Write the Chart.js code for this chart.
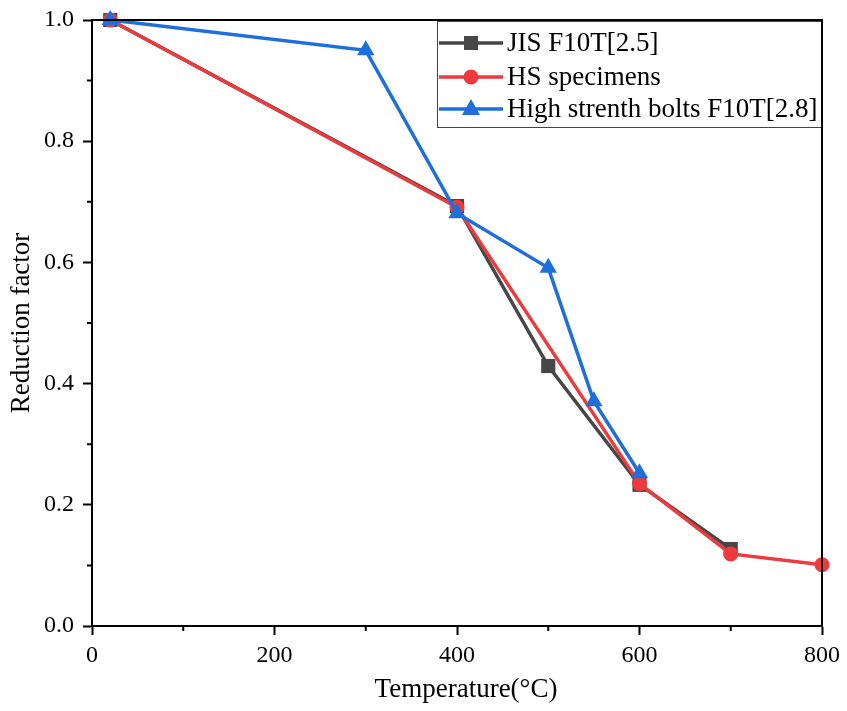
<!DOCTYPE html>
<html>
<head>
<meta charset="utf-8">
<script src="https://cdn.jsdelivr.net/npm/chart.js@4.4.1/dist/chart.umd.min.js"></script>
<style>
html,body{margin:0;padding:0;background:#fff;}
#wrap{width:847px;height:711px;position:relative;}
</style>
</head>
<body>
<div id="wrap"><canvas id="c" width="847" height="711"></canvas></div>
<script>
// Data
const jisTemps   = [20, 400, 500, 600, 700];
const jisValues  = [1.0, 0.693, 0.429, 0.233, 0.127];
const hsTemps    = [20, 400, 600, 700, 800];
const hsValues   = [1.0, 0.691, 0.235, 0.119, 0.101];
const hsbTemps   = [20, 300, 400, 500, 550, 600];
const hsbValues  = [1.0, 0.950, 0.681, 0.591, 0.371, 0.252];
const seriesNames = ["JIS F10T[2.5]", "HS specimens", "High strenth bolts F10T[2.8]"];
const xTitle = "Temperature(°C)";
const yTitle = "Reduction factor";
const xTicks = [0, 200, 400, 600, 800];
const xMinorTicks = [100, 300, 500, 700];
const yTicks = [0.0, 0.2, 0.4, 0.6, 0.8, 1.0];
const yMinorTicks = [0.1, 0.3, 0.5, 0.7, 0.9];

const FONT = "'Liberation Serif', 'Times New Roman', serif";
const cJIS = "#474747", cHS = "#ec3a3d", cHSB = "#1e6fdc";

function pts(xs, ys){ return xs.map((x,i)=>({x:x, y:ys[i]})); }

const framePlugin = {
  id: 'frame',
  afterDatasetsDraw(chart){
    const {ctx, chartArea:a, scales} = chart;
    ctx.save();
    ctx.strokeStyle = '#000';
    ctx.lineWidth = 2;
    ctx.beginPath();
    xMinorTicks.forEach(v=>{ const px = scales.x.getPixelForValue(v); ctx.moveTo(px, a.bottom); ctx.lineTo(px, a.bottom+5); });
    yMinorTicks.forEach(v=>{ const py = scales.y.getPixelForValue(v); ctx.moveTo(a.left, py); ctx.lineTo(a.left-5, py); });
    ctx.stroke();
    // x axis title (slightly right of centre, as in the reference)
    ctx.fillStyle = '#000';
    ctx.font = "27px " + FONT;
    ctx.textAlign = 'center';
    ctx.textBaseline = 'middle';
    ctx.fillText(xTitle, (a.left + a.right)/2 + 9, 690);
    ctx.restore();
  },
  afterDraw(chart){
    const {ctx, chartArea:a} = chart;
    const ds = chart.data.datasets;
    const boxL = 437, boxT = a.top + 1, boxR = a.right, boxB = 128;
    ctx.save();
    ctx.fillStyle = '#fff';
    ctx.fillRect(boxL, boxT, boxR-boxL, boxB-boxT);
    ctx.strokeStyle = '#444';
    ctx.lineWidth = 1;
    ctx.strokeRect(boxL+0.5, boxT+0.5, boxR-boxL-1, boxB-boxT-1);
    // top and right frame
    ctx.strokeStyle = '#000'; ctx.lineWidth = 2;
    ctx.beginPath(); ctx.moveTo(a.left, a.top); ctx.lineTo(a.right, a.top); ctx.lineTo(a.right, a.bottom); ctx.stroke();
    const rows = [43, 77, 109];
    ds.forEach((d, i)=>{
      const y = rows[i];
      ctx.strokeStyle = d.borderColor; ctx.lineWidth = 3.5;
      ctx.beginPath(); ctx.moveTo(439, y); ctx.lineTo(503, y); ctx.stroke();
      ctx.fillStyle = d.backgroundColor;
      const cx = 471;
      if (d.pointStyle === 'rect'){ ctx.fillRect(cx-7, y-7, 14, 14); }
      else if (d.pointStyle === 'circle'){ ctx.beginPath(); ctx.arc(cx, y, 7.5, 0, Math.PI*2); ctx.fill(); }
      else { ctx.beginPath(); ctx.moveTo(cx, y-10); ctx.lineTo(cx+9, y+6); ctx.lineTo(cx-9, y+6); ctx.closePath(); ctx.fill(); }
      ctx.fillStyle = '#000';
      ctx.font = "27px " + FONT;
      ctx.textBaseline = 'middle';
      ctx.fillText(d.label, 507, y+1);
    });
    ctx.restore();
  }
};

new Chart(document.getElementById('c'), {
  type: 'line',
  data: {
    datasets: [
      {label: seriesNames[0], data: pts(jisTemps, jisValues), borderColor: cJIS, backgroundColor: cJIS,
       borderWidth: 3.5, pointStyle: 'rect', pointRadius: 10, pointBorderWidth: 0, order: 3, clip: false},
      {label: seriesNames[1], data: pts(hsTemps, hsValues), borderColor: cHS, backgroundColor: cHS,
       borderWidth: 3.5, pointStyle: 'circle', pointRadius: 7.5, pointBorderWidth: 0, order: 2, clip: false},
      {label: seriesNames[2], data: pts(hsbTemps, hsbValues), borderColor: cHSB, backgroundColor: cHSB,
       borderWidth: 3.5, pointStyle: 'triangle', pointRadius: 10, pointBorderWidth: 0, order: 1, clip: false}
    ]
  },
  options: {
    responsive: false,
    animation: false,
    devicePixelRatio: 1,
    layout: {padding: {left: 0, right: 25, top: 20, bottom: 0}},
    plugins: {legend: {display: false}, tooltip: {enabled: false}},
    elements: {line: {tension: 0}},
    scales: {
      x: {
        type: 'linear', min: 0, max: 800,
        afterBuildTicks: s => { s.ticks = xTicks.map(v=>({value:v})); },
        afterFit: s => { s.height = 85; s.paddingLeft = 0; s.paddingRight = 0; },
        grid: {drawOnChartArea: false, drawTicks: true, tickLength: 9, tickColor: '#000', tickWidth: 2},
        border: {display: true, color: '#000', width: 2},
        ticks: {color: '#000', font: {family: FONT, size: 24}, padding: 6, maxRotation: 0},
        title: {display: false}
      },
      y: {
        type: 'linear', min: 0, max: 1.0,
        afterBuildTicks: s => { s.ticks = yTicks.map(v=>({value:v})); },
        afterFit: s => { s.width = 92; s.paddingTop = 0; s.paddingBottom = 0; },
        grid: {drawOnChartArea: false, drawTicks: true, tickLength: 9, tickColor: '#000', tickWidth: 2},
        border: {display: true, color: '#000', width: 2},
        ticks: {color: '#000', font: {family: FONT, size: 24}, padding: 9, callback: v => v.toFixed(1)},
        title: {display: true, text: yTitle, color: '#000', font: {family: FONT, size: 27}, padding: {top: 6, bottom: 0}}
      }
    }
  },
  plugins: [framePlugin]
});
</script>
</body>
</html>
